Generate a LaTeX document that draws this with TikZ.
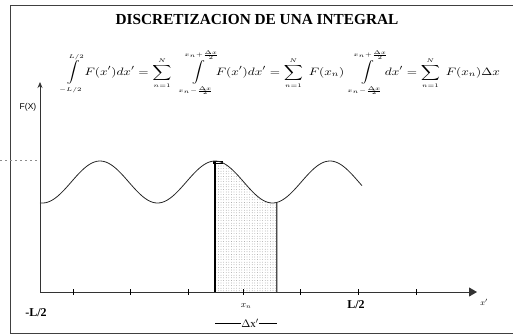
\documentclass[tikz,border=0pt]{standalone}
\usepackage{fontspec}
\usepackage{amsmath}
\setmainfont{Liberation Serif}
\newfontfamily\labelsans{Liberation Sans}
\usetikzlibrary{patterns.meta,arrows.meta}
\tikzset{
  frameline/.style={draw=black!75, line width=1pt},
  axisline/.style={draw=black!80, line width=0.8pt},
  tickmark/.style={draw=black, line width=0.7pt},
  curveline/.style={draw=black!85, line width=0.8pt},
  lbl/.style={inner sep=0pt, font=\bfseries\fontsize{12}{13}\selectfont},
}
\newcommand{\smlim}[1]{\scriptscriptstyle #1}
\begin{document}
\begin{tikzpicture}[x=1pt,y=-1pt]
\useasboundingbox (0,0) rectangle (513,335);
% frame
\draw[frameline] (513,5) -- (10,5) -- (10,333) -- (513,333);
% title
\node[inner sep=0pt, font=\bfseries\fontsize{15.3}{17}\selectfont] (title) at (257,20) {DISCRETIZACION DE UNA INTEGRAL};
% equation
\node[inner sep=0pt] (eq) at (281,73) {\resizebox*{438pt}{46pt}{$\displaystyle
\int\limits_{\smlim{-L/2}}^{\smlim{L/2}}\! F(x')dx' = \sum_{\smlim{n=1}}^{\smlim{N}}\;\;\int\limits_{\smlim{x_n-\frac{\Delta x}{2}}}^{\smlim{x_n+\frac{\Delta x}{2}}}\! F(x')dx' = \sum_{\smlim{n=1}}^{\smlim{N}}\; F(x_n)\;\int\limits_{\smlim{x_n-\frac{\Delta x}{2}}}^{\smlim{x_n+\frac{\Delta x}{2}}}\! dx' = \sum_{\smlim{n=1}}^{\smlim{N}}\; F(x_n)\Delta x$}};
% shaded strip
\fill[pattern={Dots[radius=0.35pt,distance=2.6pt]}, pattern color=black!55]
  (215,292) -- plot[domain=215:277, samples=40] (\x,{182-21*cos(3.1304*(\x-100))}) -- (277,292) -- cycle;
\draw[line width=1.3pt] (215,292) -- (215,161);
\draw[draw=black!70, line width=0.6pt, double=black!30, double distance=0.6pt] (277,292) -- (277,203);
\draw[line width=0.6pt] (213,161) rectangle (222,163);
% curve
\draw[curveline] plot[domain=40:362, samples=160] (\x,{182-21*cos(3.1304*(\x-100))});
% axes
\coordinate (o) at (40,292);
\coordinate (ytop) at (40,82);
\coordinate (xend) at (477,292);
\draw[axisline, -{Stealth[length=6pt,width=5pt]}] (o) -- (ytop);
\draw[axisline, -{Triangle[length=8pt,width=9pt]}] (o) -- (xend);
\foreach \t in {73,130,188,243,300,358,416} \draw[tickmark] (\t,289) -- (\t,295);
% dashed level line
\draw[black!45, dash pattern=on 2pt off 3pt, line width=0.5pt] (0,160) -- (38,160);
% labels
\node[inner sep=0pt, font=\labelsans\fontsize{8.5}{9}\selectfont] (fx) at (28,107) {F(X)};
\node[lbl] (lneg) at (36,313) {-L/2};
\node[lbl] (lpos) at (356,305) {L/2};
\node[inner sep=0pt, font=\fontsize{9}{10}\selectfont] (xn) at (246,306) {$x_n$};
\node[inner sep=0pt, font=\fontsize{8}{9}\selectfont] (xp) at (484,302) {$x'$};
\node[inner sep=0pt, font=\fontsize{11}{12}\selectfont] (dx) at (250,323) {$\Delta$x$'$};
\coordinate (dl) at (215,323);
\coordinate (dr) at (277,323);
\draw[line width=0.5pt] (dl) -- (dx.west);
\draw[line width=0.5pt] (dx.east) -- (dr);
\end{tikzpicture}
\end{document}
